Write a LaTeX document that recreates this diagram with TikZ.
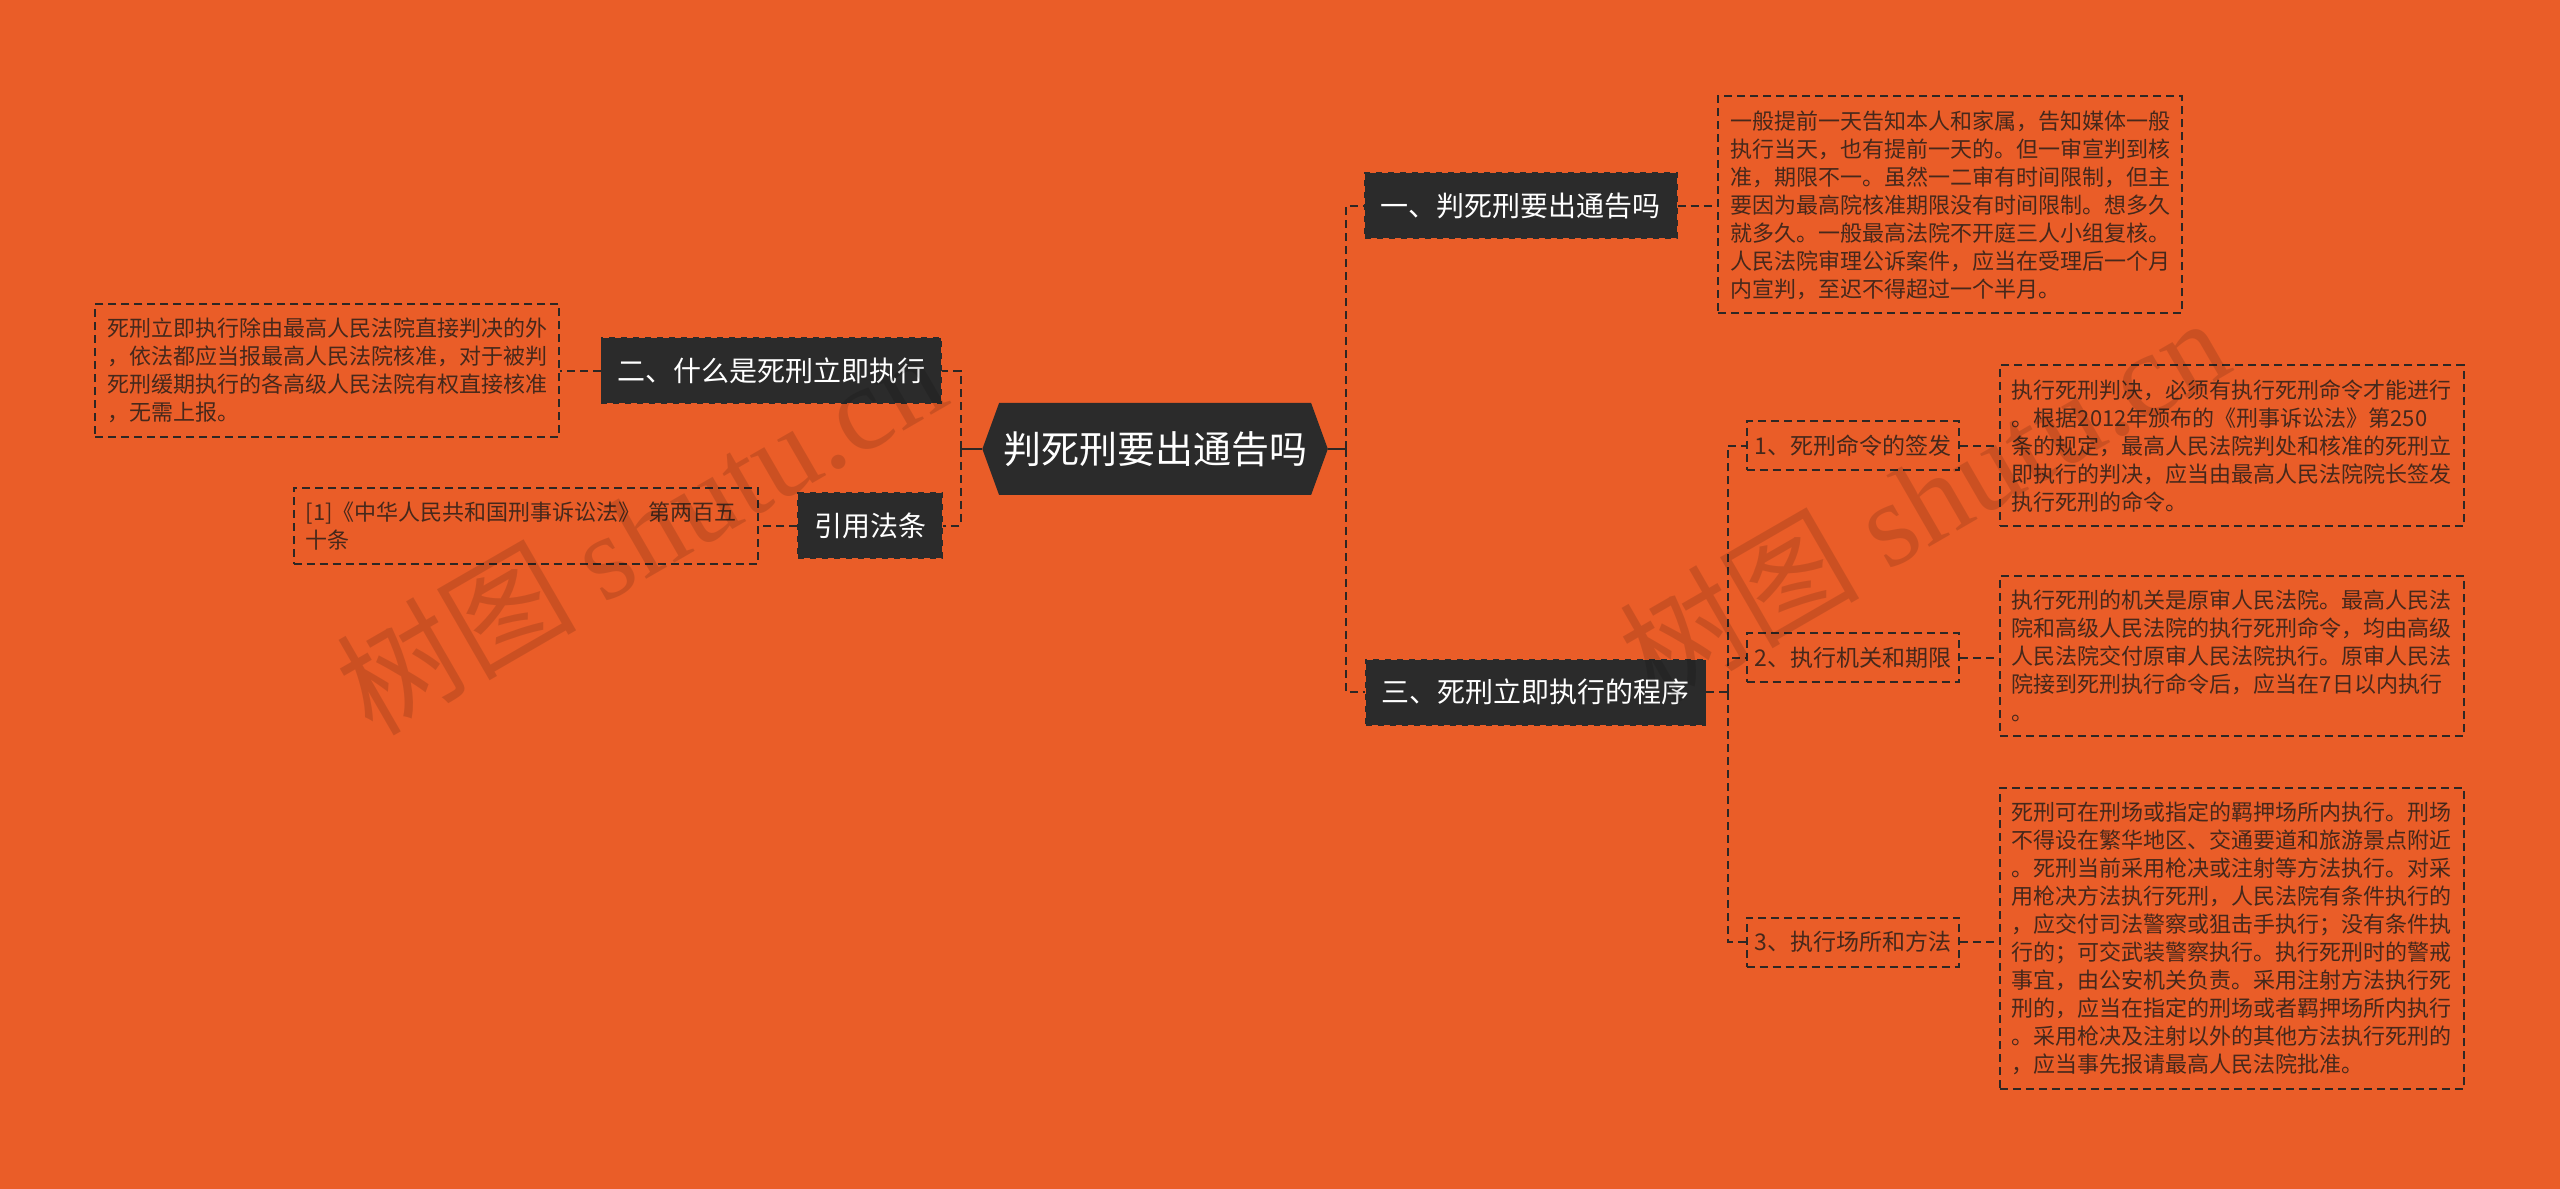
\documentclass[tikz,border=0pt]{standalone}
\usepackage{fontspec}
\setmainfont{Noto Sans CJK SC}
\newfontfamily\wmlatin{Liberation Serif}
\usetikzlibrary{shapes.symbols}
\definecolor{bgorange}{HTML}{EA5D28}
\definecolor{boxdark}{HTML}{2B2B2B}
\definecolor{linedark}{HTML}{2E2724}
\definecolor{txtdark}{HTML}{46281B}

\tikzset{
  rootnode/.style={signal, signal to=west and east, signal pointer angle=140,
    fill=boxdark, text=white, font=\fontsize{19}{22}\selectfont,
    minimum width=170.6pt, minimum height=46pt, inner xsep=2pt},
  topic/.style={draw=boxdark, dashed, line width=0.8pt, fill=boxdark, text=white,
    font=\fontsize{14}{17}\selectfont, minimum height=32.7pt, inner xsep=8pt},
  subtopic/.style={draw=linedark, line width=1pt, dash pattern=on 4pt off 2.5pt,
    text=txtdark, font=\fontsize{11.5}{14}\selectfont,
    minimum width=106pt, minimum height=24.5pt, inner xsep=4pt},
  note/.style={draw=linedark, line width=1pt, dash pattern=on 4pt off 2.5pt,
    text=txtdark, text width=220pt, align=left, inner xsep=6pt, inner ysep=7pt,
    font=\fontsize{11}{14}\selectfont},
  link/.style={draw=linedark, line width=1pt, dash pattern=on 4pt off 2.5pt},
  stub/.style={draw=linedark, line width=1.3pt},
  watermark/.style={rotate=30, text=black, opacity=0.13, font=\fontsize{60}{60}\selectfont}
}

\begin{document}
\begin{tikzpicture}[x=0.8163pt, y=-0.8163pt]
  \useasboundingbox (0,0) rectangle (1568,728);
  \fill[bgorange] (0,0) rectangle (1568,728);

  % centre
  \node[rootnode] (root) at (707.5,275) {判死刑要出通告吗};

  % right side
  \node[topic] (notice) at (931.5,126) {一、判死刑要出通告吗};
  \node[note] (noticetxt) at (1194.5,125.5) {一般提前一天告知本人和家属，告知媒体一般\\执行当天，也有提前一天的。但一审宣判到核\\准，期限不一。虽然一二审有时间限制，但主\\要因为最高院核准期限没有时间限制。想多久\\就多久。一般最高法院不开庭三人小组复核。\\人民法院审理公诉案件，应当在受理后一个月\\内宣判，至迟不得超过一个半月。};

  \node[topic] (procedure) at (940.5,424) {三、死刑立即执行的程序};
  \node[subtopic] (order) at (1135,273) {1、死刑命令的签发};
  \node[subtopic] (organ) at (1135,403) {2、执行机关和期限};
  \node[subtopic] (place) at (1135,577) {3、执行场所和方法};
  \node[note] (ordertxt) at (1367,273) {执行死刑判决，必须有执行死刑命令才能进行\\。根据2012年颁布的《刑事诉讼法》第250\\条的规定，最高人民法院判处和核准的死刑立\\即执行的判决，应当由最高人民法院院长签发\\执行死刑的命令。};
  \node[note] (organtxt) at (1367,402) {执行死刑的机关是原审人民法院。最高人民法\\院和高级人民法院的执行死刑命令，均由高级\\人民法院交付原审人民法院执行。原审人民法\\院接到死刑执行命令后，应当在7日以内执行\\。};
  \node[note] (placetxt) at (1367,575) {死刑可在刑场或指定的羁押场所内执行。刑场\\不得设在繁华地区、交通要道和旅游景点附近\\。死刑当前采用枪决或注射等方法执行。对采\\用枪决方法执行死刑，人民法院有条件执行的\\，应交付司法警察或狙击手执行；没有条件执\\行的；可交武装警察执行。执行死刑时的警戒\\事宜，由公安机关负责。采用注射方法执行死\\刑的，应当在指定的刑场或者羁押场所内执行\\。采用枪决及注射以外的其他方法执行死刑的\\，应当事先报请最高人民法院批准。};

  % left side
  \node[topic] (immediate) at (472.5,227) {二、什么是死刑立即执行};
  \node[note] (immediatetxt) at (200.5,227) {死刑立即执行除由最高人民法院直接判决的外\\，依法都应当报最高人民法院核准，对于被判\\死刑缓期执行的各高级人民法院有权直接核准\\，无需上报。};
  \node[topic] (cite) at (533,322) {引用法条};
  \node[note] (citetxt) at (322,322) {[1]《中华人民共和国刑事诉讼法》 第两百五\\十条};

  % connectors
  \draw[stub] (root.east) -- ++(11,0) coordinate (rtrunk);
  \draw[link] (rtrunk) |- (notice.west);
  \draw[link] (rtrunk) |- (procedure.west);
  \draw[stub] (root.west) -- ++(-13,0) coordinate (ltrunk);
  \draw[link] (ltrunk) |- (immediate.east);
  \draw[link] (ltrunk) |- (cite.east);

  \draw[link] (notice.east) -- (notice.east -| noticetxt.west);
  \draw[link] (procedure.east) -- ++(13,0) coordinate (ptrunk);
  \draw[link] (ptrunk) |- (order.west);
  \draw[link] (ptrunk) |- (organ.west);
  \draw[link] (ptrunk) |- (place.west);
  \draw[link] (order.east) -- (order.east -| ordertxt.west);
  \draw[link] (organ.east) -- (organ.east -| organtxt.west);
  \draw[link] (place.east) -- (place.east -| placetxt.west);
  \draw[link] (immediate.west) -- (immediate.west -| immediatetxt.east);
  \draw[link] (cite.west) -- (cite.west -| citetxt.east);

  % watermarks
  \node[watermark] (wmleft) at (392,325) {树图 {\wmlatin shutu.cn}};
  \node[watermark] (wmright) at (1178,305) {树图 {\wmlatin shutu.cn}};
\end{tikzpicture}
\end{document}
